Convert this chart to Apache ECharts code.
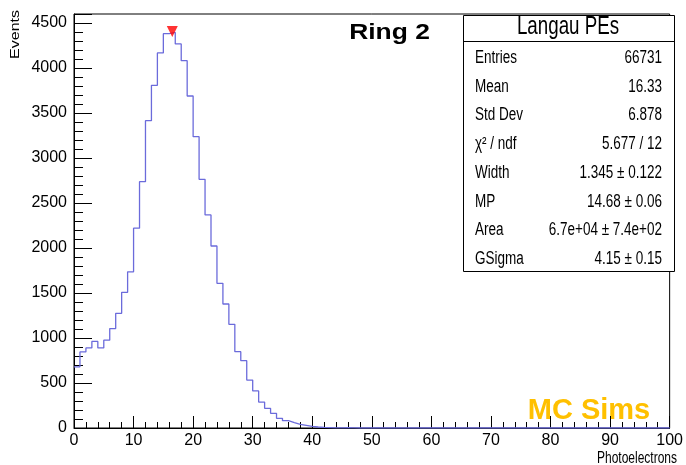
<!DOCTYPE html>
<html>
<head>
<meta charset="utf-8">
<script src="https://cdn.jsdelivr.net/npm/echarts@6/dist/echarts.min.js"></script>
<style>
  html, body { margin: 0; padding: 0; background: #ffffff; }
  #chart { width: 686px; height: 465px; }
</style>
</head>
<body>
<div id="chart"></div>
<script>
// Photoelectron spectrum, 100 bins of width 1 between 0 and 100
const xMin = 0;
const xMax = 100;
const xStep = 10;
const binWidth = 1;
const yMin = 0;
const yMax = 4600;
const yStep = 500;

const counts = [
  680, 845, 890, 962, 890, 976, 1105, 1274, 1507, 1735,
  2220, 2737, 3415, 3807, 4167, 4381, 4395, 4267, 4081, 3689,
  3237, 2763, 2367, 2022, 1607, 1378, 1152, 848, 748, 533,
  412, 288, 219, 163, 107, 81, 59, 41, 30, 19,
  11, 7, 5, 2, 2, 5, 1, 0, 0, 0,
  0, 0, 0, 0, 0, 0, 0, 0, 0, 0,
  0, 0, 0, 0, 0, 0, 0, 0, 0, 0,
  0, 0, 0, 0, 0, 0, 0, 0, 0, 0,
  0, 0, 0, 0, 0, 0, 0, 0, 0, 0,
  0, 0, 0, 0, 0, 0, 0, 0, 0, 0
];

// Fitted most-probable peak position marker
const peakMarker = [16.5, 4405];

const titleText = 'Ring 2';
const tagText = 'MC Sims';
const xTitle = 'Photoelectrons';
const yTitle = 'Events';

const statsTitle = 'Langau PEs';
const statsLabels = ['Entries', 'Mean', 'Std Dev', 'χ² / ndf', 'Width', 'MP', 'Area', 'GSigma'];
const statsValues = ['66731', '16.33', '6.878', '5.677 / 12', '1.345 ± 0.122', '14.68 ± 0.06', '6.7e+04 ± 7.4e+02', '4.15 ± 0.15'];

// Histogram outline: one point per lower bin edge, plus the closing upper edge
const histPoints = counts.map((v, i) => [xMin + i * binWidth, v]);
histPoints.push([xMin + counts.length * binWidth, counts[counts.length - 1]]);

const axisFont = "'Liberation Sans Narrow', 'Arial Narrow', 'Liberation Sans', Arial, sans-serif";
const textFont = "'Liberation Sans', Arial, sans-serif";

const chart = echarts.init(document.getElementById('chart'), null, { renderer: 'canvas' });

// Statistics box
const boxLeft = 463.5, boxTop = 15.5, boxRight = 674.5, boxBottom = 271.5;
const statsGraphics = [
  {
    type: 'rect', z: 100,
    shape: { x: boxLeft, y: boxTop, width: boxRight - boxLeft, height: boxBottom - boxTop },
    style: { fill: '#ffffff', stroke: '#000000', lineWidth: 1 }
  },
  {
    type: 'line', z: 101,
    shape: { x1: boxLeft, y1: 41.5, x2: boxRight, y2: 41.5 },
    style: { stroke: '#000000', lineWidth: 1 }
  },
  {
    type: 'text', z: 102, x: 568, y: 27, scaleX: 0.75,
    style: { text: statsTitle, font: '25px ' + textFont, fill: '#000', align: 'center', verticalAlign: 'middle' }
  }
];
statsLabels.forEach((lab, i) => {
  const y = 58 + i * 28.75;
  statsGraphics.push({
    type: 'text', z: 102, x: 475, y: y, scaleX: 0.75,
    style: { text: lab, font: '18px ' + textFont, fill: '#000', align: 'left', verticalAlign: 'middle' }
  });
  statsGraphics.push({
    type: 'text', z: 102, x: 662, y: y, scaleX: 0.75,
    style: { text: statsValues[i], font: '18px ' + textFont, fill: '#000', align: 'right', verticalAlign: 'middle' }
  });
});

const option = {
  animation: false,
  backgroundColor: '#ffffff',
  grid: {
    left: 74, right: 10, top: 14, bottom: 37,
    show: true, borderColor: '#000000', borderWidth: 1, backgroundColor: 'transparent'
  },
  xAxis: {
    type: 'value',
    min: xMin, max: xMax, interval: xStep,
    axisLine: { show: true, onZero: false, lineStyle: { color: '#000', width: 1 } },
    axisTick: { show: true, inside: true, length: 12, lineStyle: { color: '#000', width: 1 } },
    minorTick: { show: true, splitNumber: 5, length: 6, lineStyle: { color: '#000', width: 1 } },
    splitLine: { show: false },
    axisLabel: { color: '#000', fontSize: 16, fontFamily: axisFont, margin: 5 }
  },
  yAxis: {
    type: 'value',
    min: yMin, max: yMax, interval: yStep,
    axisLine: { show: true, onZero: false, lineStyle: { color: '#000', width: 1 } },
    axisTick: { show: true, inside: true, length: 18, lineStyle: { color: '#000', width: 1 } },
    minorTick: { show: true, splitNumber: 5, length: 9, lineStyle: { color: '#000', width: 1 } },
    splitLine: { show: false },
    axisLabel: {
      color: '#000', fontSize: 16, fontFamily: axisFont, margin: 7,
      formatter: v => (v % yStep === 0 ? String(v) : '')
    }
  },
  series: [
    {
      type: 'line',
      data: histPoints,
      step: 'end',
      symbol: 'none',
      clip: true,
      lineStyle: { color: '#6b6bdb', width: 1.3 },
      z: 3
    },
    {
      type: 'scatter',
      data: [peakMarker],
      symbol: 'triangle',
      symbolRotate: 180,
      symbolSize: [11, 11],
      itemStyle: { color: '#ff0000' },
      z: 4
    }
  ],
  graphic: [
    {
      type: 'text', x: 389.5, y: 33, scaleX: 1.2,
      style: { text: titleText, font: 'bold 22px ' + textFont, fill: '#000', align: 'center', verticalAlign: 'middle' }
    },
    {
      type: 'text', x: 589, y: 411,
      style: { text: tagText, font: 'bold 29px ' + textFont, fill: '#FFC000', align: 'center', verticalAlign: 'middle' }
    },
    {
      type: 'text', x: 677, y: 459, scaleX: 0.75,
      style: { text: xTitle, font: '16px ' + textFont, fill: '#000', align: 'right', verticalAlign: 'middle' }
    },
    {
      type: 'text', x: 16, y: 10, rotation: Math.PI / 2, scaleX: 1, scaleY: 0.75,
      style: { text: yTitle, font: '16px ' + textFont, fill: '#000', align: 'right', verticalAlign: 'middle' }
    }
  ].concat(statsGraphics)
};

chart.setOption(option);
</script>
</body>
</html>
